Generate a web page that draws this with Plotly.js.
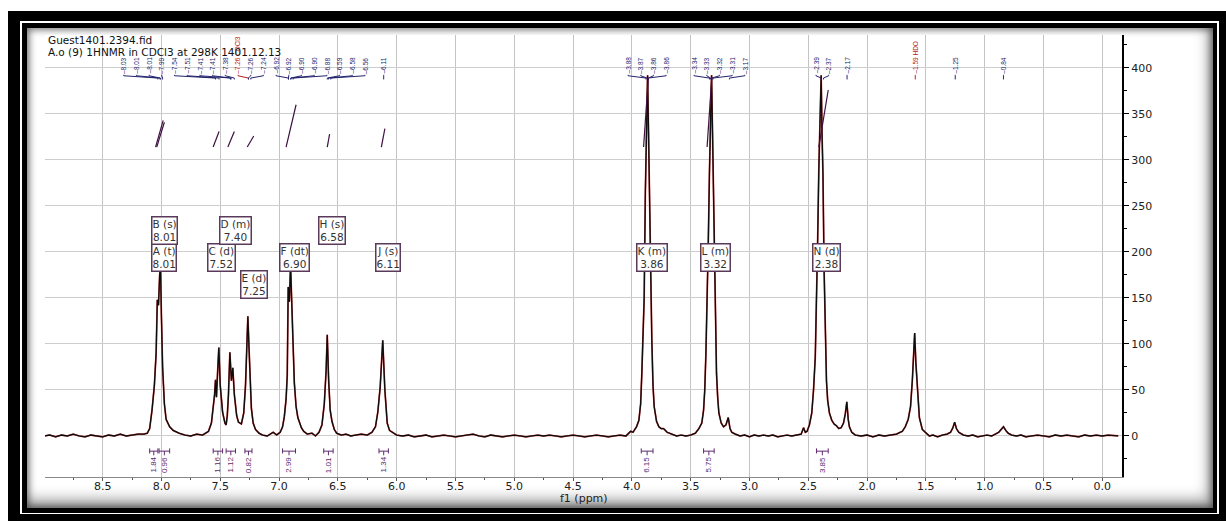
<!DOCTYPE html>
<html>
<head>
<meta charset="utf-8">
<script src="https://cdn.plot.ly/plotly-3.0.1.min.js"></script>
<style>
  html, body { margin: 0; padding: 0; background: #fff; }
  #wrap { position: relative; width: 1226px; height: 521px; overflow: hidden; background: #fff; }
  .fr { position: absolute; }
  #f1 { left: 8px; top: 11px; width: 1218px; height: 510px; background: #000; }
  #f2 { left: 20px; top: 21px; width: 1199px; height: 493px; background: #fff; }
  #f3 { left: 22px; top: 23px; width: 1195px; height: 490px; background: #000; }
  #f4 { left: 27px; top: 28px; width: 1186px; height: 480px; background: #fff;
        box-shadow: inset 0 0 7px 2px rgba(0,0,0,0.5), inset -5px -9px 14px rgba(0,0,0,0.35); }
  #chart { position: absolute; left: 0; top: 0; width: 1226px; height: 521px; }
</style>
</head>
<body>
<div id="wrap">
  <div class="fr" id="f1"></div>
  <div class="fr" id="f2"></div>
  <div class="fr" id="f3"></div>
  <div class="fr" id="f4"></div>
  <div id="chart"></div>
</div>
<script>
// ---------------- spectrum (ppm, intensity) ----------------
const ppm = [
 8.99,8.95,8.90,8.85,8.80,8.75,8.70,8.65,8.60,8.55,8.50,8.45,8.40,8.35,8.30,8.25,8.20,8.15,8.12,
 8.10,8.08,8.06,8.045,8.035,8.025,8.015,8.008,8.00,7.99,7.975,7.96,7.93,7.90,7.85,7.80,7.75,7.70,7.65,7.62,
 7.60,7.575,7.56,7.548,7.54,7.532,7.522,7.512,7.50,7.48,7.46,7.45,7.44,7.43,7.418,7.405,7.393,7.38,7.36,7.345,
 7.32,7.30,7.285,7.272,7.265,7.255,7.245,7.235,7.22,7.20,7.17,7.14,7.10,7.07,7.05,7.02,6.99,
 6.97,6.955,6.94,6.93,6.922,6.912,6.902,6.89,6.88,6.87,6.855,6.84,6.81,6.79,6.76,6.72,6.69,6.66,
 6.635,6.615,6.60,6.59,6.578,6.565,6.55,6.53,6.51,6.47,6.43,6.39,6.35,6.30,6.25,6.21,
 6.18,6.16,6.14,6.125,6.118,6.10,6.09,6.08,6.06,6.03,6.00,
 5.95,5.90,5.85,5.80,5.75,5.70,5.65,5.60,5.55,5.50,5.45,5.40,5.35,5.30,5.25,5.20,5.15,5.10,5.05,5.00,
 4.95,4.90,4.85,4.80,4.75,4.70,4.65,4.60,4.55,4.50,4.45,4.40,4.35,4.30,4.25,4.20,4.15,4.10,4.05,
 4.01,3.99,3.96,3.94,3.925,3.915,3.905,3.895,3.885,3.875,3.866,3.858,3.85,3.84,3.83,3.82,3.81,3.79,3.77,
 3.75,3.73,3.70,3.66,3.62,3.58,3.54,3.50,
 3.46,3.43,3.405,3.39,3.38,3.37,3.36,3.35,3.34,3.33,3.322,3.31,3.30,3.29,3.28,3.27,3.26,3.24,3.22,3.20,
 3.18,3.165,3.15,3.12,3.08,3.04,3.00,2.96,2.92,2.88,2.84,2.80,2.76,2.72,2.68,2.64,2.60,2.56,
 2.54,2.525,2.51,2.49,2.47,2.455,2.44,2.43,2.42,2.41,2.40,2.39,2.383,2.375,2.365,2.355,2.345,2.335,2.32,
 2.30,2.28,2.26,2.24,2.22,2.20,2.185,2.172,2.16,2.15,2.13,2.10,2.05,2.00,1.95,1.90,1.85,1.80,1.75,1.70,
 1.675,1.65,1.63,1.615,1.605,1.595,1.585,1.575,1.565,1.555,1.53,1.50,1.47,1.44,1.40,1.36,1.32,
 1.29,1.27,1.255,1.24,1.22,1.18,1.14,1.10,1.06,1.02,0.98,0.94,0.91,0.88,0.86,0.84,0.82,0.80,0.77,
 0.73,0.69,0.65,0.60,0.55,0.50,0.45,0.40,0.35,0.30,0.25,0.20,0.15,0.10,0.05,0.00,-0.05,-0.10,-0.136
];
const intensity = [
 0,1,-1,1,0,2,0,-1,1,0,-1,1,0,2,0,1,2,2,3,
 8,28,55,90,148,142,175,184,130,75,35,18,10,6,3,1,0,2,1,3,
 5,14,28,45,61,42,70,96,55,26,14,12,22,45,91,60,74,45,22,15,
 13,25,55,105,130,95,50,30,14,7,3,1,0,3,4,1,4,
 10,21,40,66,162,146,186,130,85,58,32,20,9,5,2,3,0,4,
 12,35,70,110,60,28,16,7,3,1,2,0,1,2,1,4,
 10,26,53,85,104,50,28,14,6,3,1,
 0,1,-1,0,1,-1,0,1,0,-1,0,1,2,0,-1,1,0,-1,0,1,
 0,-1,0,1,0,1,0,-1,0,1,0,-1,0,1,0,-1,0,1,0,
 5,4,10,17,35,68,105,150,265,360,392,330,249,160,104,55,32,16,10,
 8,8,4,2,0,1,0,1,
 3,8,14,28,50,90,140,210,286,360,392,300,213,130,68,42,25,14,10,12,
 20,8,4,2,0,1,-1,1,0,1,0,1,-1,0,1,0,1,2,
 9,4,5,12,25,50,86,140,213,290,345,392,330,286,180,104,60,39,25,
 17,13,11,8,9,14,24,37,18,10,4,1,0,1,-1,1,0,1,2,5,
 10,18,32,60,90,112,80,55,32,20,7,3,0,1,-1,1,2,
 4,9,15,8,4,1,0,1,-1,0,1,0,2,4,7,10,6,3,1,
 0,1,-1,0,1,0,-1,1,0,1,0,-1,1,0,1,0,1,0,0
];

// ---------------- peak picking labels ----------------
const peakShifts = [8.03,8.01,8.01,7.99,7.54,7.51,7.41,7.41,7.38,7.26,7.26,7.24,
  6.92,6.92,6.90,6.90,6.88,6.59,6.58,6.56,6.11,3.88,3.87,3.86,3.86,3.34,3.33,3.32,3.31,3.17,
  2.39,2.37,2.17,1.59,1.25,0.84];
const peakNotes = ['','','','','','','','','','CDCl3','','','','','','','','','','','',
  '','','','','','','','','','','','','HDO','',''];

// ---------------- multiplet boxes ----------------
const multLetters = ['A','B','C','D','E','F','H','J','K','L','N'];
const multTypes   = ['t','s','d','m','d','dt','s','s','m','m','d'];
const multShifts  = [8.01,8.01,7.52,7.40,7.25,6.90,6.58,6.11,3.86,3.32,2.38];

// ---------------- integrals ----------------
const integralValues = ['1.84','0.96','1.16','1.12','0.82','2.99','1.01','1.34','6.15','5.75','3.85'];
const integralFrom   = [8.10,8.02,7.56,7.45,7.29,6.97,6.62,6.15,3.92,3.39,2.43];
const integralTo     = [8.03,7.93,7.48,7.37,7.23,6.86,6.54,6.07,3.82,3.30,2.33];
// drawn integral curves (start ppm, end ppm, rise)
const curveFrom = [8.05,8.04,7.56,7.435,7.27,6.94,6.59,6.13,3.90,3.36,2.41];
const curveTo   = [7.985,7.975,7.51,7.38,7.215,6.855,6.57,6.10,3.86,3.32,2.33];
const curveRise = [29,27,17,17,12,46,14,20,75,76,62];

// ---------------- geometry ----------------
const W = 1226, H = 521;
const M = {l: 45, r: 104, t: 35, b: 44};
const XR = [8.99, -0.168];
const YR = [-44.6, 435.8];
const pxPerPpm = (W - M.l - M.r) / (XR[0] - XR[1]);
const plotH = H - M.t - M.b;

const traces = [
  {x: ppm, y: intensity, type: 'scatter', mode: 'lines',
   line: {color: '#cc3b3b', width: 1.7}, hoverinfo: 'skip', showlegend: false},
  {x: ppm, y: intensity, type: 'scatter', mode: 'lines',
   line: {color: '#0c0c0c', width: 1.3}, hoverinfo: 'skip', showlegend: false}
];

const shapes = [];
const annotations = [];
const LBL_FONT = 'Liberation Sans Narrow, Liberation Sans, Arial, sans-serif';

// spread peak labels so they do not overlap (clusters centred on their mid-range)
function spread(vals, minSep) {
  const mid = idx => (vals[idx[0]] + vals[idx[idx.length - 1]]) / 2;
  let groups = vals.map((v, i) => ({idx: [i], center: v}));
  let changed = true;
  while (changed) {
    changed = false;
    for (let g = 0; g < groups.length - 1; g++) {
      const a = groups[g], b = groups[g + 1];
      const aLast = a.center - (a.idx.length - 1) / 2 * minSep;
      const bFirst = b.center + (b.idx.length - 1) / 2 * minSep;
      if (aLast - bFirst < minSep - 1e-9) {
        const idx = a.idx.concat(b.idx);
        groups.splice(g, 2, {idx, center: mid(idx)});
        changed = true; break;
      }
    }
  }
  const pos = new Array(vals.length);
  groups.forEach(g => {
    g.idx.forEach((i, k) => { pos[i] = g.center + ((g.idx.length - 1) / 2 - k) * minSep; });
  });
  return pos;
}
const labelPos = spread(peakShifts, 12.7 / pxPerPpm);
peakShifts.forEach((s, i) => {
  const red = peakNotes[i] !== '';
  const col = red ? '#b52020' : '#23236e';
  annotations.push({x: labelPos[i], y: 392.5, xref: 'x', yref: 'y', showarrow: false,
    textangle: -90, xanchor: 'center', yanchor: 'bottom', borderpad: 0,
    text: '–' + s.toFixed(2) + (red ? ' ' + peakNotes[i] : ''),
    font: {family: LBL_FONT, size: 6.5, color: col}});
  shapes.push({type: 'path', xref: 'x', yref: 'y',
    path: `M ${labelPos[i]},392.5 L ${labelPos[i]},391.5 L ${s},389 L ${s},387.5`,
    line: {color: col, width: 1}});
});

// header text
annotations.push({xref: 'paper', yref: 'paper', x: 0, y: (477 - 40) / plotH, xshift: 2,
  xanchor: 'left', yanchor: 'middle', showarrow: false, text: 'Guest1401.2394.fid', borderpad: 0,
  font: {family: 'DejaVu Sans', size: 10.5, color: '#111'}});
annotations.push({xref: 'paper', yref: 'paper', x: 0, y: (477 - 52.5) / plotH, xshift: 2,
  xanchor: 'left', yanchor: 'middle', showarrow: false, borderpad: 0,
  text: 'A.o (9) 1HNMR in CDCl3 at 298K 1401.12.13',
  font: {family: 'DejaVu Sans', size: 10.5, color: '#111'}});

// x axis title
annotations.push({xref: 'paper', yref: 'paper', x: 0.5, y: (477 - 498) / plotH,
  xanchor: 'center', yanchor: 'middle', showarrow: false, text: 'f1 (ppm)',
  font: {family: 'DejaVu Sans', size: 11, color: '#222'}});

// integral curves
curveFrom.forEach((f, i) => {
  shapes.push({type: 'line', xref: 'x', yref: 'y', x0: f, y0: 314, x1: curveTo[i], y1: 314 + curveRise[i],
    line: {color: '#3d1040', width: 1.2}});
});

// integral labels under the baseline
integralValues.forEach((v, i) => {
  const a = integralFrom[i], b = integralTo[i], c = (a + b) / 2;
  const col = '#5e2a6e';
  shapes.push({type: 'line', xref: 'x', yref: 'y', x0: a, x1: b, y0: -16.5, y1: -16.5, line: {color: col, width: 1}});
  shapes.push({type: 'line', xref: 'x', yref: 'y', x0: a, x1: a, y0: -13.5, y1: -19, line: {color: col, width: 1}});
  shapes.push({type: 'line', xref: 'x', yref: 'y', x0: b, x1: b, y0: -13.5, y1: -19, line: {color: col, width: 1}});
  shapes.push({type: 'line', xref: 'x', yref: 'y', x0: c, x1: c, y0: -16.5, y1: -21, line: {color: col, width: 1}});
  annotations.push({x: c, y: -21.5, xref: 'x', yref: 'y', showarrow: false, textangle: -90,
    xanchor: 'center', yanchor: 'top', text: v, borderpad: 0,
    font: {family: LBL_FONT, size: 8, color: col}});
});

// multiplet boxes, greedy row placement
const rowLevels = [193.5, 223, 165];
const rowUsed = rowLevels.map(() => []);
multLetters.forEach((L, i) => {
  const line1 = L + ' (' + multTypes[i] + ')';
  const line2 = multShifts[i].toFixed(2);
  const wpx = Math.max(line1.length, line2.length) * 6.6 + 8;
  const cpx = M.l + (XR[0] - multShifts[i]) * pxPerPpm + 4;
  const iv = [cpx - wpx / 2, cpx + wpx / 2];
  let r = 0;
  for (; r < rowLevels.length; r++) {
    if (!rowUsed[r].some(u => iv[0] < u[1] + 2 && iv[1] > u[0] - 2)) break;
  }
  if (r >= rowLevels.length) r = rowLevels.length - 1;
  rowUsed[r].push(iv);
  annotations.push({x: multShifts[i], xshift: 4, y: rowLevels[r], xref: 'x', yref: 'y',
    showarrow: false, xanchor: 'center', yanchor: 'middle',
    text: line1 + '<br>' + line2, align: 'center',
    bgcolor: '#ffffff', bordercolor: '#5a3a5a', borderwidth: 1.5, borderpad: 0,
    font: {family: 'DejaVu Sans', size: 10.5, color: '#333'}});
});

const layout = {
  width: W, height: H,
  margin: M,
  paper_bgcolor: 'rgba(0,0,0,0)',
  plot_bgcolor: '#ffffff',
  showlegend: false,
  xaxis: {
    range: XR, tick0: 0, dtick: 0.5, tickformat: '.1f',
    showgrid: true, gridcolor: '#c4c4c4', gridwidth: 1, zeroline: false,
    showline: true, linecolor: '#8a8a8a', linewidth: 1,
    ticks: 'outside', ticklen: 3, tickcolor: '#555', ticklabelstandoff: -4,
    minor: {ticks: 'outside', ticklen: 2, dtick: 0.25, tickcolor: '#555', showgrid: false},
    tickfont: {family: 'DejaVu Sans', size: 11, color: '#222'}
  },
  yaxis: {
    range: YR, side: 'right', tick0: 0, dtick: 50,
    showgrid: true, gridcolor: '#cdcdcd', gridwidth: 1, zeroline: false,
    showline: true, linecolor: '#000', linewidth: 2,
    ticks: 'outside', ticklen: 5, tickcolor: '#000',
    minor: {ticks: 'outside', ticklen: 3, dtick: 25, tickcolor: '#000', showgrid: false},
    tickfont: {family: 'DejaVu Sans', size: 11, color: '#222'}
  },
  shapes: shapes,
  annotations: annotations
};

Plotly.newPlot('chart', traces, layout, {staticPlot: true, displayModeBar: false});
</script>
</body>
</html>
